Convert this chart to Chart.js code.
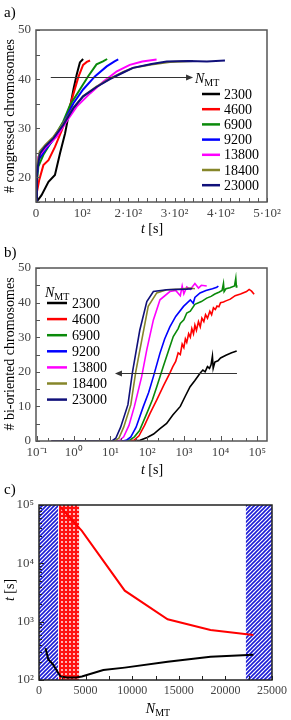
<!DOCTYPE html>
<html>
<head>
<meta charset="utf-8">
<script src="https://cdn.jsdelivr.net/npm/chart.js@4.4.0/dist/chart.umd.min.js"></script>
<style>
    body { margin: 0; background: #fff; width: 291px; height: 720px; overflow: hidden; }
    canvas { display: block; }
</style>
</head>
<body>
<canvas id="chartA" width="291" height="240"></canvas>
<canvas id="chartB" width="291" height="240"></canvas>
<canvas id="chartC" width="291" height="240"></canvas>
<script>
// Series names and colours (N_MT)
const seriesNames = ['2300', '4600', '6900', '9200', '13800', '18400', '23000'];
const seriesColors = ['#000000', '#ff0000', '#0a8a0a', '#0000ff', '#ff00ff', '#86862a', '#10107a'];

// Panel a) congressed chromosomes vs t [s]
const congT2300 = [0, 5, 12, 27, 41, 52, 63, 72, 81, 88, 95, 102];
const congN2300 = [15, 15.5, 16.4, 19.1, 20.5, 24.9, 29, 33.4, 37.9, 40.9, 43.4, 44.1];
const congT4600 = [0, 2, 7, 16, 27, 41, 56, 70, 81, 92, 102, 110, 117];
const congN4600 = [15, 17, 19.5, 22.5, 23.5, 26.2, 29.6, 33.4, 37, 40.5, 42.9, 43.5, 43.8];
const congT6900 = [0, 2, 5, 16, 38, 59, 74, 95, 113, 131, 145, 154];
const congN6900 = [15, 19, 22.2, 24.6, 28, 31.4, 34.8, 37.9, 40.6, 43, 43.6, 44.1];
const congT9200 = [0, 2, 5, 20, 38, 59, 81, 102, 128, 153, 170, 178];
const congN9200 = [15, 20, 23.5, 25.6, 27.7, 31, 35.1, 37.9, 40.6, 42.6, 43.6, 44];
const congT13800 = [0, 2, 5, 23, 45, 66, 88, 117, 146, 175, 203, 230, 261];
const congN13800 = [15, 21, 24.2, 26.3, 28.3, 31.4, 34.4, 37.1, 39.5, 41.6, 42.9, 43.6, 44];
const congT18400 = [0, 2, 8, 20, 38, 59, 81, 102, 131, 160, 190, 210, 250, 290, 340];
const congN18400 = [15, 22, 25.3, 26.6, 28.3, 31, 34.2, 36.5, 38.5, 40.1, 41.5, 42.3, 43, 43.5, 43.7];
const congT23000 = [0, 2, 8.6, 20, 38, 59, 81, 102, 131, 160, 190, 210, 250, 283, 330, 370, 409];
const congN23000 = [15, 21, 24.9, 26.3, 28, 30.7, 34.1, 36.5, 38.4, 40, 41.4, 42.3, 43.1, 43.6, 43.7, 43.6, 43.8];

// Panel b) bi-oriented chromosomes vs t [s] (log time)
const biT2300 = [0.25, 40, 64, 100, 150, 220, 340, 500, 800, 1100, 1480, 2000, 2760, 3300, 3800, 4400, 5000, 5500, 6000, 6300, 7000, 8500, 10000, 14000, 20000, 27500];
const biN2300 = [0, 0, 0.2, 1, 2, 3.5, 5.1, 7.5, 10, 13, 15.7, 17.5, 19.6, 20.5, 20, 21.5, 21, 22, 24.5, 21, 22.8, 23.2, 24, 24.8, 25.5, 26];
const biT4600 = [0.25, 30, 45, 60, 85, 120, 183, 280, 416, 500, 600, 700, 800, 900, 1000, 1100, 1200, 1350, 1500, 1650, 1830, 2000, 2200, 2500, 2800, 3100, 3500, 3900, 4400, 5100, 5700, 6400, 7200, 8000, 9000, 10000, 12000, 14000, 18400, 25000, 35000, 51000, 60000, 70000, 82000];
const biN4600 = [0, 0, 0.3, 1.5, 4.5, 8, 11.9, 16, 19.6, 21.5, 23, 25.5, 25, 28, 27, 29.5, 28.5, 31, 30, 32.5, 31, 33.5, 32, 34.5, 33, 35.5, 34.5, 36.5, 35.5, 37.5, 36.5, 38.5, 38, 39, 38.8, 40, 40.2, 40.5, 41, 42, 42.5, 43.2, 43.8, 43.3, 42.4];
const biT6900 = [0.25, 25, 34, 45, 62, 98, 140, 183, 275, 380, 515, 700, 800, 1000, 1200, 1500, 2000, 3000, 4200, 5500, 7000, 9000, 11000, 12000, 12500, 14000, 18000, 24000, 26000, 27000, 27500];
const biN6900 = [0, 0, 0.3, 1.2, 3, 8, 12, 15.7, 21.5, 26, 30.2, 32.5, 34, 35, 37, 37.5, 39.5, 40.3, 41.3, 41.8, 42.5, 43, 43.5, 45.5, 43.2, 44, 44.3, 44.8, 47, 44.5, 45];
const biT9200 = [0.25, 22, 28, 36, 50, 79, 110, 148, 224, 300, 416, 600, 980, 1500, 1800, 2000, 2760, 4000, 6000, 7900, 8700];
const biN9200 = [0, 0, 0.3, 1.2, 4, 10, 14, 18.6, 25.4, 29.5, 33, 36, 38.9, 40.8, 39.8, 41.5, 42.8, 43.5, 44, 44.4, 44.8];
const biT13800 = [0.25, 17, 23, 32, 45, 71, 98, 148, 224, 416, 600, 800, 900, 1000, 1200, 1500, 2000, 2500, 3000, 4200];
const biN13800 = [0, 0, 1.2, 4.5, 10, 18.6, 26.4, 35, 40.8, 43.2, 43.5, 42, 44.8, 42.5, 44.5, 43.8, 45.5, 44.2, 45, 44.8];
const biT18400 = [0.25, 13, 17, 23, 36, 49, 71, 107, 183, 340, 800, 1480, 2000];
const biN18400 = [0, 0, 0.8, 4, 10.5, 20, 29, 38.9, 42.8, 43.7, 43.9, 44.2, 44];
const biT23000 = [0.25, 11, 14, 19, 30, 40, 63, 98, 148, 340, 1200, 1700];
const biN23000 = [0, 0, 0.8, 4, 10.5, 20, 32, 40.3, 43.2, 43.7, 43.9, 44];

// Panel c) times vs N_MT
const timeRedN = [2300, 4600, 9200, 13800, 18400, 23000];
const timeRedT = [92000, 36000, 3400, 1100, 720, 590];
const timeBlackN = [700, 1000, 1500, 2300, 3000, 4000, 4600, 6900, 9200, 13800, 18400, 23000];
const timeBlackT = [350, 225, 185, 115, 110, 110, 115, 148, 163, 205, 250, 270];
const bandBlueRanges = [[0, 2050], [22200, 25000]];
const bandRedRanges = [[2150, 4300]];

// Tick labels
const aXTicks = [0, 100, 200, 300, 400, 500];
const aXLabels = ['0', '10²', '2·10²', '3·10²', '4·10²', '5·10²'];
const aYTicks = [20, 30, 40, 50];
const bXTicks = [0.1, 1, 10, 100, 1000, 10000, 100000];
const bXLabels = ['10⁻¹', '10⁰', '10¹', '10²', '10³', '10⁴', '10⁵'];
const bYTicks = [0, 10, 20, 30, 40, 50];
const cXTicks = [0, 5000, 10000, 15000, 20000, 25000];
const cYTicks = [100, 1000, 10000, 100000];
const cYLabels = ['10²', '10³', '10⁴', '10⁵'];

const serif = '"Liberation Serif", "Times New Roman", serif';
const tickColor = '#444';

function font(size, style) {
    return (style || 'normal') + ' ' + size + 'px ' + serif;
}

function toPoints(xs, ys) {
    return xs.map((x, i) => ({ x: x, y: ys[i] }));
}

// Draws a line of mixed-style text centred on x, baseline y
function drawRich(ctx, parts, x, y, rot, align) {
    ctx.save();
    ctx.translate(x, y);
    if (rot) ctx.rotate(rot);
    ctx.textBaseline = 'alphabetic';
    ctx.textAlign = 'left';
    let w = 0;
    parts.forEach(p => { ctx.font = font(p.size, p.style); w += ctx.measureText(p.text).width; });
    let cx = align === 'left' ? 0 : -w / 2;
    parts.forEach(p => {
        ctx.font = font(p.size, p.style);
        ctx.fillStyle = p.color || '#000';
        ctx.fillText(p.text, cx, p.dy || 0);
        cx += ctx.measureText(p.text).width;
    });
    ctx.restore();
}

function nmtParts(size) {
    return [{ text: 'N', size: size, style: 'italic' }, { text: 'MT', size: Math.round(size * 0.68), dy: 3 }];
}

function tParts(size) {
    return [{ text: 't', size: size, style: 'italic' }, { text: ' [s]', size: size }];
}

function makePattern(ctx, kind) {
    const tile = document.createElement('canvas');
    tile.width = 4;
    tile.height = 4;
    const g = tile.getContext('2d');
    if (kind === 'hatch') {
        g.fillStyle = '#ffffff';
        g.fillRect(0, 0, 4, 4);
        g.strokeStyle = '#1c1cd6';
        g.lineWidth = 1.6;
        g.beginPath();
        g.moveTo(-1, 5); g.lineTo(5, -1);
        g.moveTo(-1, 1); g.lineTo(1, -1);
        g.moveTo(3, 5); g.lineTo(5, 3);
        g.stroke();
    } else {
        g.fillStyle = '#ff1010';
        g.fillRect(0, 0, 4, 4);
        g.fillStyle = '#ffffff';
        g.beginPath();
        g.arc(2, 2, 0.9, 0, Math.PI * 2);
        g.fill();
    }
    return ctx.createPattern(tile, 'repeat');
}

// Frame, inward ticks, bands, legend, arrow and titles
const decoPlugin = {
    id: 'deco',
    beforeDatasetsDraw(chart, args, opts) {
        if (!opts.bands) return;
        const { ctx, chartArea: a, scales } = chart;
        ctx.save();
        opts.bands.forEach(b => {
            const pat = makePattern(ctx, b.kind);
            b.ranges.forEach(r => {
                const x0 = scales.x.getPixelForValue(r[0]);
                const x1 = scales.x.getPixelForValue(r[1]);
                ctx.fillStyle = pat;
                ctx.fillRect(x0, a.top, x1 - x0, a.bottom - a.top);
            });
        });
        ctx.restore();
    },
    afterDatasetsDraw(chart, args, opts) {
        const { ctx, chartArea: a, scales } = chart;
        ctx.save();
        // tick marks, drawn inwards
        ctx.strokeStyle = opts.frameColor;
        ctx.lineWidth = 1;
        ctx.beginPath();
        opts.xTicks.forEach(t => {
            const px = Math.round(scales.x.getPixelForValue(t[0])) + 0.5;
            ctx.moveTo(px, a.bottom);
            ctx.lineTo(px, a.bottom - t[1]);
        });
        opts.yTicks.forEach(t => {
            const py = Math.round(scales.y.getPixelForValue(t[0])) + 0.5;
            ctx.moveTo(a.left, py);
            ctx.lineTo(a.left + t[1], py);
        });
        ctx.stroke();
        // frame
        ctx.lineWidth = opts.frameWidth;
        ctx.strokeRect(a.left, a.top, a.right - a.left, a.bottom - a.top);

        // arrow
        if (opts.arrow) {
            const ar = opts.arrow;
            const x0 = scales.x.getPixelForValue(ar.from[0]);
            const x1 = scales.x.getPixelForValue(ar.to[0]);
            const y = Math.round(scales.y.getPixelForValue(ar.from[1])) + 0.5;
            const dir = x1 > x0 ? 1 : -1;
            ctx.strokeStyle = '#333';
            ctx.fillStyle = '#333';
            ctx.lineWidth = 1;
            ctx.beginPath();
            ctx.moveTo(x0, y);
            ctx.lineTo(x1 - dir * 5, y);
            ctx.stroke();
            ctx.beginPath();
            ctx.moveTo(x1, y);
            ctx.lineTo(x1 - dir * 7, y - 3);
            ctx.lineTo(x1 - dir * 7, y + 3);
            ctx.closePath();
            ctx.fill();
        }

        // legend
        if (opts.legend) {
            const lg = opts.legend;
            drawRich(ctx, nmtParts(14), lg.headX, lg.headY, 0, 'left');
            seriesNames.forEach((name, i) => {
                const y = lg.y0 + i * lg.dy;
                ctx.strokeStyle = seriesColors[i];
                ctx.lineWidth = 2.5;
                ctx.beginPath();
                ctx.moveTo(lg.lineX0, y);
                ctx.lineTo(lg.lineX1, y);
                ctx.stroke();
                ctx.font = font(14);
                ctx.fillStyle = '#000';
                ctx.textAlign = 'left';
                ctx.textBaseline = 'middle';
                ctx.fillText(name, lg.textX, y + 1);
            });
        }

        // titles
        opts.texts.forEach(t => drawRich(ctx, t.parts, t.x, t.y, t.rot || 0, t.align));
        ctx.restore();
    }
};
Chart.register(decoPlugin);

function linearTicks(min, max, step, len) {
    const out = [];
    for (let v = min; v <= max + 1e-9; v += step) out.push([v, len]);
    return out;
}

function logTicks(minExp, maxExp, minors, majorLen, minorLen) {
    const out = [];
    for (let e = minExp; e <= maxExp; e++) {
        out.push([Math.pow(10, e), majorLen]);
        if (e < maxExp) minors.forEach(m => out.push([m * Math.pow(10, e), minorLen]));
    }
    return out;
}

function baseScale(extra) {
    return Object.assign({
        grid: { display: false, drawTicks: false },
        border: { display: false }
    }, extra);
}

function lineDatasets(tArrays, nArrays, width) {
    return seriesNames.map((name, i) => ({
        label: name,
        data: toPoints(tArrays[i], nArrays[i]),
        borderColor: seriesColors[i],
        borderWidth: width,
        pointRadius: 0,
        showLine: true,
        tension: 0,
        order: seriesNames.length - i
    }));
}

const commonOptions = {
    responsive: false,
    animation: false,
    events: []
};

// ---------- Panel a ----------
new Chart(document.getElementById('chartA'), {
    type: 'scatter',
    data: {
        datasets: lineDatasets(
            [congT2300, congT4600, congT6900, congT9200, congT13800, congT18400, congT23000],
            [congN2300, congN4600, congN6900, congN9200, congN13800, congN18400, congN23000], 2)
    },
    options: Object.assign({}, commonOptions, {
        layout: { padding: { top: 30, right: 24, left: 0, bottom: 0 } },
        scales: {
            x: baseScale({
                type: 'linear', min: 0, max: 500,
                afterBuildTicks: s => { s.ticks = aXTicks.map(v => ({ value: v })); },
                afterFit: s => { s.height = 38; },
                ticks: { callback: (v, i) => aXLabels[i], font: { family: serif, size: 13 }, color: tickColor, padding: 4, maxRotation: 0, autoSkip: false }
            }),
            y: baseScale({
                type: 'linear', min: 15, max: 50,
                afterBuildTicks: s => { s.ticks = aYTicks.map(v => ({ value: v })); },
                afterFit: s => { s.width = 36; },
                ticks: { font: { family: serif, size: 13 }, color: tickColor, padding: 5 }
            })
        },
        plugins: {
            legend: { display: false },
            tooltip: { enabled: false },
            deco: {
                frameColor: '#555', frameWidth: 1.5,
                xTicks: linearTicks(0, 500, 20, 4),
                yTicks: linearTicks(15, 50, 5, 4),
                arrow: { from: [32, 40.4], to: [340, 40.4] },
                legend: { headX: 195, headY: 83, y0: 94, dy: 15.2, lineX0: 202, lineX1: 220, textX: 224 },
                texts: [
                    { parts: [{ text: 'a)', size: 15 }], x: 4, y: 17, align: 'left' },
                    { parts: [{ text: '# congressed chromosomes', size: 14 }], x: 14, y: 116, rot: -Math.PI / 2 },
                    { parts: tParts(14), x: 152, y: 233 }
                ]
            }
        }
    })
});

// ---------- Panel b ----------
new Chart(document.getElementById('chartB'), {
    type: 'scatter',
    data: {
        datasets: lineDatasets(
            [biT2300, biT4600, biT6900, biT9200, biT13800, biT18400, biT23000],
            [biN2300, biN4600, biN6900, biN9200, biN13800, biN18400, biN23000], 1.6)
    },
    options: Object.assign({}, commonOptions, {
        layout: { padding: { top: 28, right: 24, left: 0, bottom: 0 } },
        scales: {
            x: baseScale({
                type: 'logarithmic', min: 0.094, max: 184000,
                afterBuildTicks: s => { s.ticks = bXTicks.map(v => ({ value: v })); },
                afterFit: s => { s.height = 39; },
                ticks: { callback: (v, i) => bXLabels[i], font: { family: serif, size: 13 }, color: tickColor, padding: 4, maxRotation: 0, autoSkip: false }
            }),
            y: baseScale({
                type: 'linear', min: 0, max: 50,
                afterBuildTicks: s => { s.ticks = bYTicks.map(v => ({ value: v })); },
                afterFit: s => { s.width = 36; },
                ticks: { font: { family: serif, size: 13 }, color: tickColor, padding: 5 }
            })
        },
        plugins: {
            legend: { display: false },
            tooltip: { enabled: false },
            deco: {
                frameColor: '#555', frameWidth: 1.5,
                xTicks: logTicks(-1, 5, [2, 5], 5, 3),
                yTicks: linearTicks(0, 50, 5, 4),
                arrow: { from: [28000, 19.6], to: [13.3, 19.6] },
                legend: { headX: 45, headY: 57, y0: 63, dy: 16.1, lineX0: 47, lineX1: 67, textX: 72 },
                texts: [
                    { parts: [{ text: 'b)', size: 15 }], x: 4, y: 17, align: 'left' },
                    { parts: [{ text: '# bi-oriented chromosomes', size: 14 }], x: 14, y: 114, rot: -Math.PI / 2 },
                    { parts: tParts(14), x: 152, y: 234 }
                ]
            }
        }
    })
});

// ---------- Panel c ----------
new Chart(document.getElementById('chartC'), {
    type: 'scatter',
    data: {
        datasets: [
            { label: 'red', data: toPoints(timeRedN, timeRedT), borderColor: '#ff0000', borderWidth: 2, pointRadius: 0, showLine: true },
            { label: 'black', data: toPoints(timeBlackN, timeBlackT), borderColor: '#000000', borderWidth: 2, pointRadius: 0, showLine: true }
        ]
    },
    options: Object.assign({}, commonOptions, {
        layout: { padding: { top: 25, right: 19, left: 0, bottom: 0 } },
        scales: {
            x: baseScale({
                type: 'linear', min: 0, max: 25000,
                afterBuildTicks: s => { s.ticks = cXTicks.map(v => ({ value: v })); },
                afterFit: s => { s.height = 40; },
                ticks: { callback: v => String(v), font: { family: serif, size: 12 }, color: tickColor, padding: 4, maxRotation: 0, autoSkip: false }
            }),
            y: baseScale({
                type: 'logarithmic', min: 100, max: 100000,
                afterBuildTicks: s => { s.ticks = cYTicks.map(v => ({ value: v })); },
                afterFit: s => { s.width = 39; },
                ticks: { callback: (v, i) => cYLabels[i], font: { family: serif, size: 13 }, color: tickColor, padding: 5 }
            })
        },
        plugins: {
            legend: { display: false },
            tooltip: { enabled: false },
            deco: {
                frameColor: '#222', frameWidth: 1.5,
                bands: [
                    { kind: 'hatch', ranges: bandBlueRanges },
                    { kind: 'dots', ranges: bandRedRanges }
                ],
                xTicks: linearTicks(0, 25000, 2500, 4),
                yTicks: logTicks(2, 5, [2, 3, 4, 5, 6, 7, 8, 9], 5, 3),
                texts: [
                    { parts: [{ text: 'c)', size: 15 }], x: 4, y: 14, align: 'left' },
                    { parts: tParts(14), x: 14, y: 110, rot: -Math.PI / 2 },
                    { parts: nmtParts(14), x: 158, y: 233 }
                ]
            }
        }
    })
});
</script>
</body>
</html>
